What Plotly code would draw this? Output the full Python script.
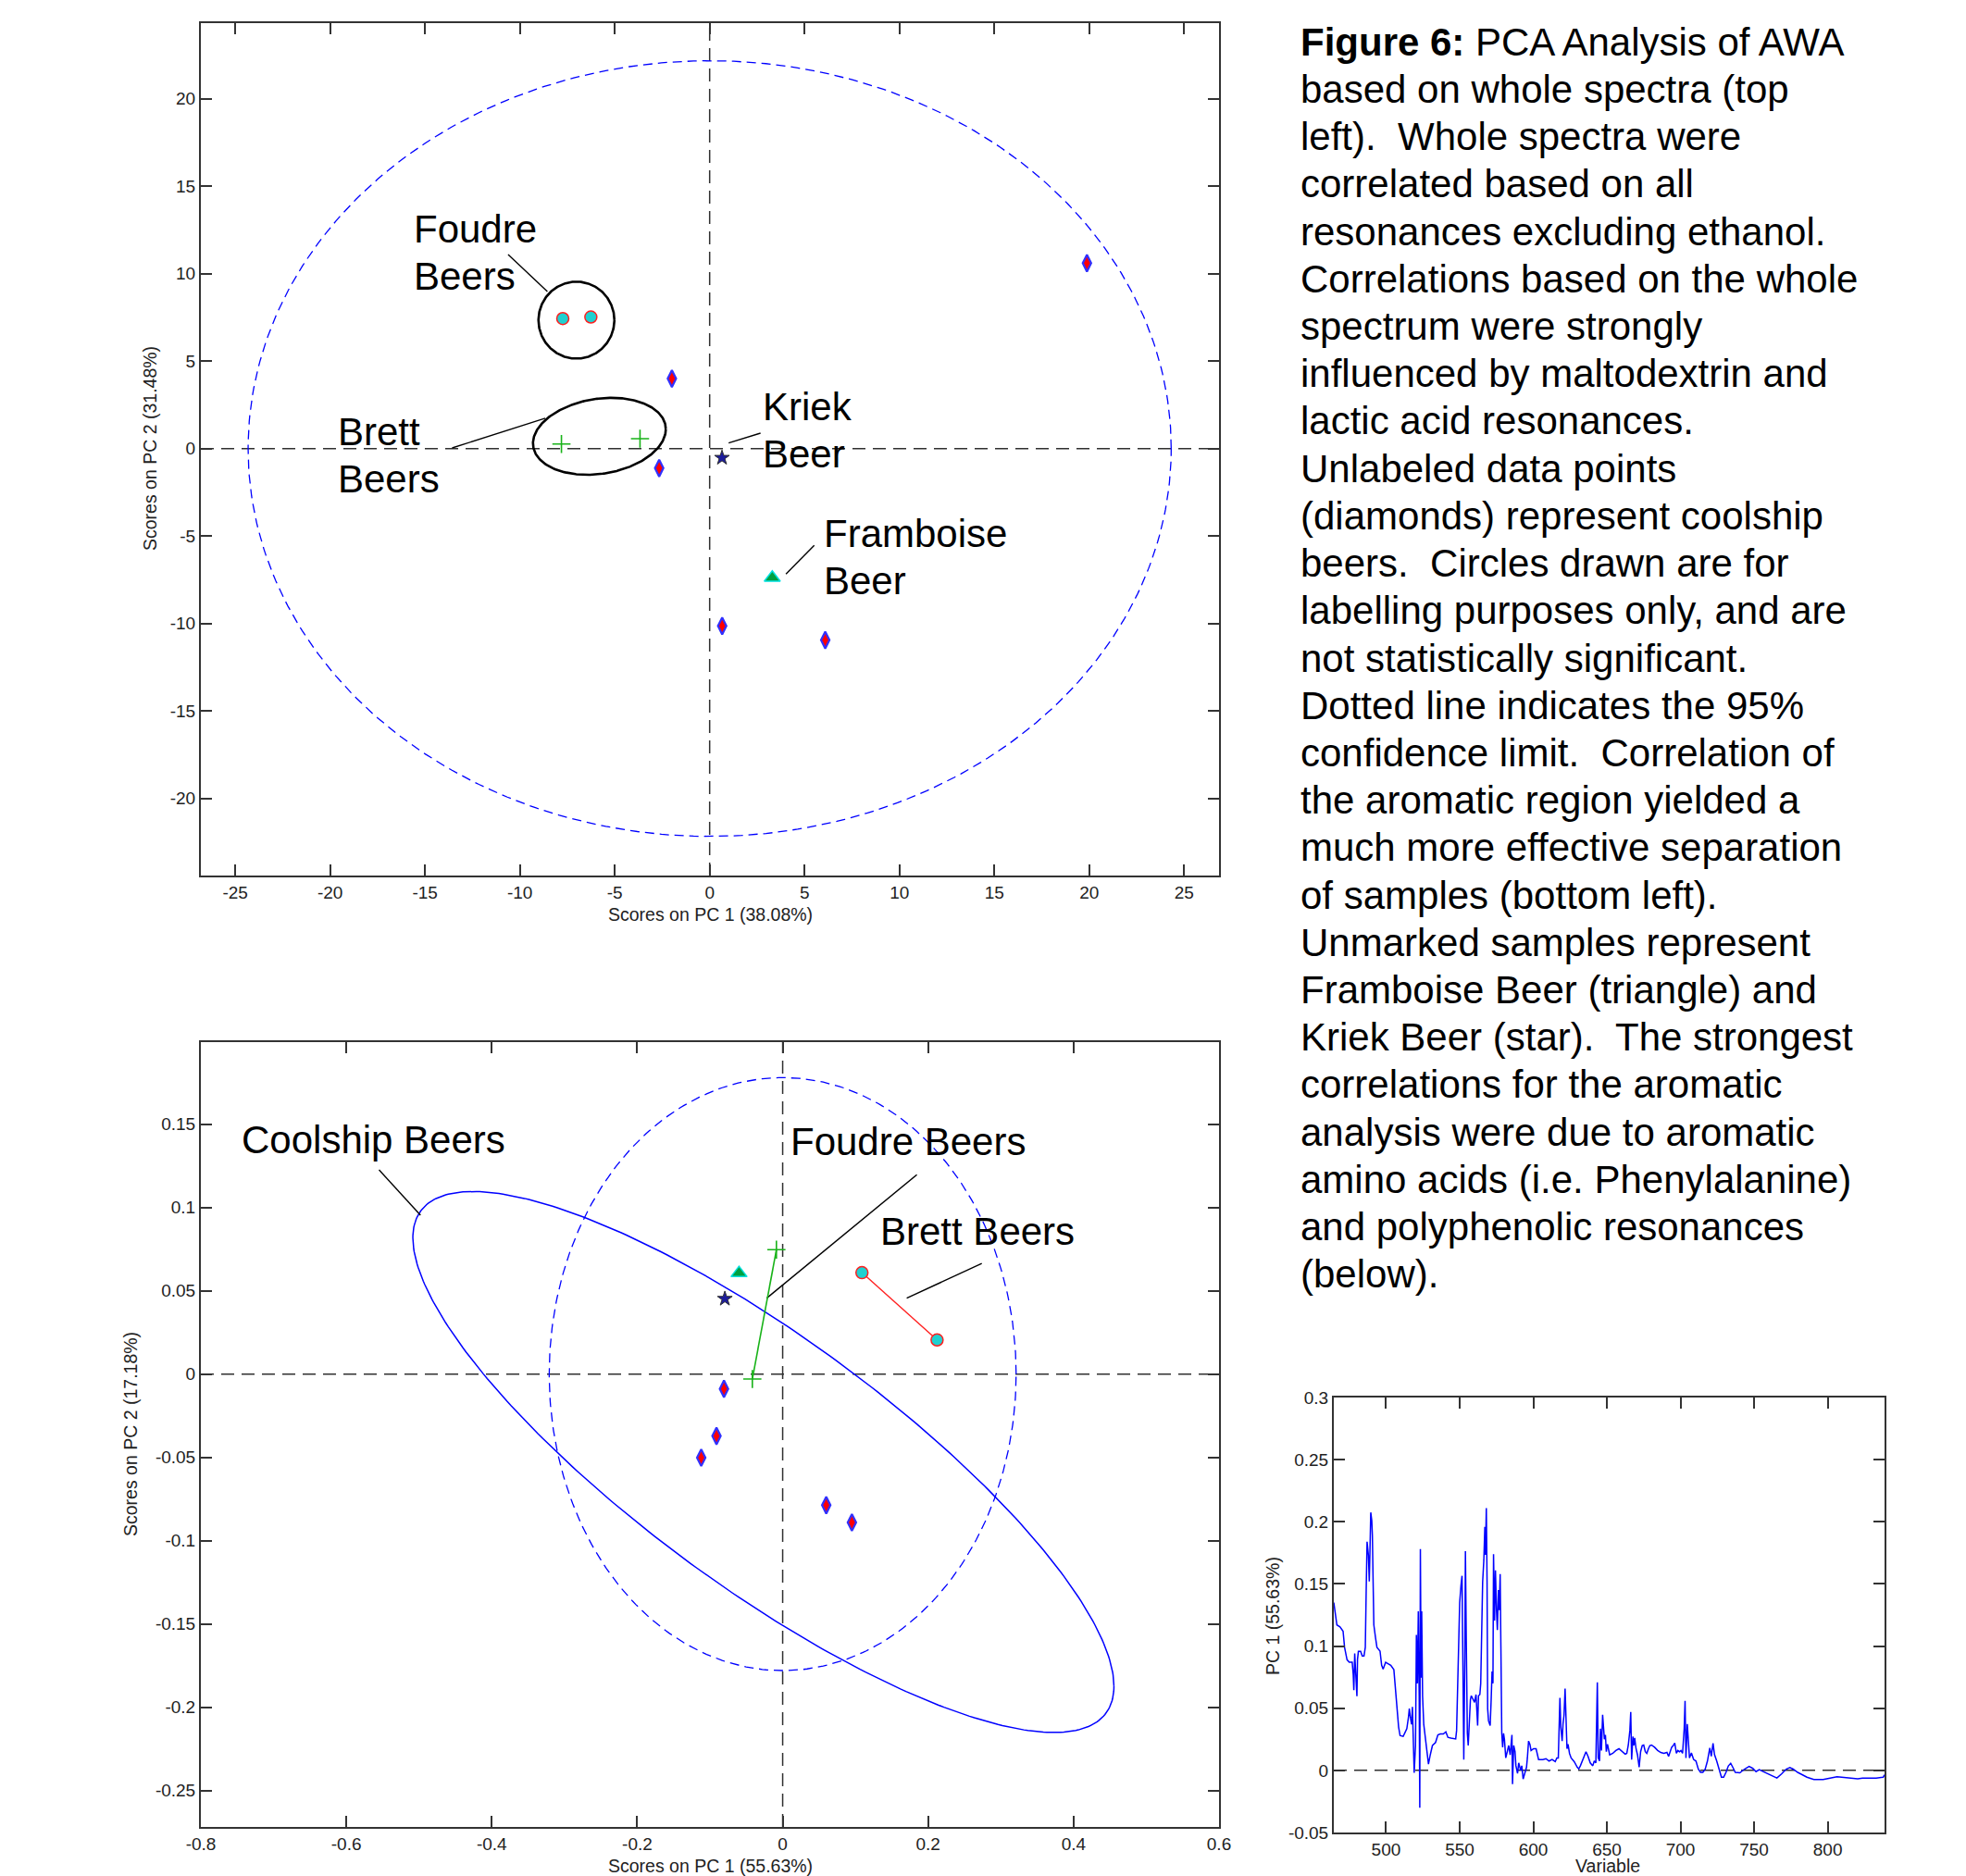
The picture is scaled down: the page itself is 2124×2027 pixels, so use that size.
import numpy as np
import plotly.graph_objects as go

W, H = 2124, 2027
FONT = "Liberation Sans, Arial, sans-serif"

# ------------------------------------------------------------------ data
# Top panel: PCA of whole spectra (scores)
top_coolship_x = [-1.99, -2.66, 0.66, 6.09, 19.88]
top_coolship_y = [4.00, -1.12, -10.14, -10.95, 10.60]
top_foudre_x = [-7.74, -6.26]
top_foudre_y = [7.43, 7.52]
top_brett_x = [-7.81, -3.67]
top_brett_y = [0.26, 0.56]
top_kriek_x = [0.65]
top_kriek_y = [-0.53]
top_framboise_x = [3.30]
top_framboise_y = [-7.39]
top_limit_semi = [24.32, 22.17]           # 95% confidence ellipse semi-axes
top_xrange = [-26.81, 26.84]
top_yrange = [-24.41, 24.32]
top_xticks = [-25, -20, -15, -10, -5, 0, 5, 10, 15, 20, 25]
top_xticklabels = ["-25", "-20", "-15", "-10", "-5", "0", "5", "10", "15", "20", "25"]
top_yticks = [-20, -15, -10, -5, 0, 5, 10, 15, 20]
top_yticklabels = ["-20", "-15", "-10", "-5", "0", "5", "10", "15", "20"]

# Bottom panel: PCA of aromatic region (scores)
bot_coolship_x = [-0.0807, -0.091, -0.112, 0.0599, 0.0952]
bot_coolship_y = [-0.0089, -0.0372, -0.0502, -0.0787, -0.0891]
bot_circles_x = [0.109, 0.2123]
bot_circles_y = [0.0609, 0.0205]
bot_crosses_x = [-0.0086, -0.0417]
bot_crosses_y = [0.0747, -0.0030]
bot_kriek_x = [-0.0795]
bot_kriek_y = [0.0452]
bot_framboise_x = [-0.060]
bot_framboise_y = [0.0606]
bot_limit_semi = [0.321, 0.178]
bot_xrange = [-0.8, 0.6]
bot_yrange = [-0.2719, 0.1993]
bot_xticks = [-0.8, -0.6, -0.4, -0.2, 0, 0.2, 0.4, 0.6]
bot_xticklabels = ["-0.8", "-0.6", "-0.4", "-0.2", "0", "0.2", "0.4", "0.6"]
bot_yticks = [-0.25, -0.2, -0.15, -0.1, -0.05, 0, 0.05, 0.1, 0.15]
bot_yticklabels = ["-0.25", "-0.2", "-0.15", "-0.1", "-0.05", "0", "0.05", "0.1", "0.15"]

# Loadings on PC 1 (aromatic region)
spec_variable = [
    464.5, 466.0, 466.6, 468.7, 470.8, 471.8, 473.5, 475.0, 477.0, 477.7,
    478.1, 478.7, 479.4, 480.2, 480.6, 481.2, 482.7, 483.8, 485.0, 485.9,
    486.5, 487.1, 488.0, 488.6, 489.0, 489.6, 490.3, 490.7, 491.1, 491.7,
    492.8, 493.8, 495.9, 497.0, 498.0, 499.7, 501.6, 503.2, 505.3, 506.4,
    507.4, 508.5, 509.5, 511.6, 512.6, 514.1, 515.2, 515.8, 516.4, 517.3,
    517.9, 518.5, 519.1, 520.0, 520.6, 521.3, 521.9, 522.5, 522.9, 523.3,
    523.8, 524.2, 524.8, 525.6, 526.9, 527.7, 528.8, 530.0, 531.5, 533.6,
    535.2, 536.8, 538.9, 540.6, 542.0, 544.1, 547.3, 547.9, 548.6, 549.4,
    550.0, 550.9, 551.6, 552.2, 552.8, 553.5, 553.9, 554.5, 555.2, 555.8,
    556.4, 557.3, 557.9, 559.0, 560.1, 561.1, 561.8, 562.2, 562.8, 563.7,
    564.3, 564.9, 565.6, 566.4, 567.1, 567.5, 568.1, 568.6, 569.0, 569.6,
    570.7, 571.4, 572.0, 572.6, 573.0, 573.7, 574.3, 575.0, 575.6, 576.3,
    576.9, 577.5, 578.1, 578.6, 579.2, 579.8, 580.4, 581.3, 582.3, 583.3,
    584.3, 585.5, 585.9, 586.7, 587.6, 588.2, 589.3, 590.1, 591.4, 592.2,
    593.1, 593.9, 595.4, 596.0, 596.8, 597.7, 598.5, 600.2, 601.9, 603.6,
    606.5, 608.6, 610.7, 612.8, 614.9, 616.0, 617.0, 617.7, 618.1, 618.7,
    619.6, 620.2, 620.9, 621.6, 622.3, 622.9, 623.6, 624.6, 625.7, 627.8,
    629.9, 630.9, 632.0, 634.1, 635.8, 637.2, 638.7, 640.4, 641.4, 642.5,
    643.1, 643.5, 644.1, 645.0, 645.6, 646.3, 647.1, 647.7, 648.3, 649.0,
    649.6, 650.4, 651.9, 654.0, 656.1, 658.2, 660.3, 662.4, 663.5, 664.5,
    665.6, 666.2, 666.8, 667.7, 668.3, 668.9, 669.8, 670.8, 671.9, 672.9,
    674.0, 675.0, 676.1, 677.1, 678.2, 679.2, 680.3, 682.4, 684.5, 686.6,
    688.7, 690.8, 691.9, 692.9, 694.0, 695.1, 696.1, 697.2, 698.2, 699.3,
    700.3, 701.4, 702.5, 703.1, 703.7, 704.6, 705.2, 706.1, 707.4, 708.9,
    710.5, 712.1, 713.6, 715.2, 716.8, 718.3, 719.9, 720.9, 722.1, 723.1,
    724.6, 726.2, 727.8, 729.3, 730.9, 732.5, 734.1, 735.6, 737.2, 740.3,
    743.5, 746.6, 749.1, 751.3, 753.5, 756.1, 759.2, 762.3, 765.5, 768.6,
    771.8, 774.3, 776.5, 779.6, 782.8, 785.9, 790.6, 796.9, 801.6, 806.3,
    811.0, 815.7, 820.4, 823.6, 828.3, 833.0, 837.7, 838.6,
]
spec_pc1 = [
    0.135, 0.124, 0.117, 0.1155, 0.112, 0.099, 0.089, 0.087, 0.087, 0.077,
    0.0646, 0.094, 0.0795, 0.0596, 0.0894, 0.0957, 0.0957, 0.092, 0.092, 0.099,
    0.145, 0.184, 0.173, 0.152, 0.173, 0.2075, 0.201, 0.189, 0.159, 0.117,
    0.107, 0.099, 0.096, 0.0845, 0.0815, 0.087, 0.0857, 0.0845, 0.081, 0.0646,
    0.047, 0.035, 0.028, 0.0273, 0.0298, 0.0335, 0.0427, 0.0497, 0.0435, 0.037,
    0.051, 0.025, -0.002, 0.02, 0.109, 0.070, 0.128, 0.06, -0.030, 0.178,
    0.0745, 0.128, 0.0596, 0.037, 0.025, 0.015, 0.005, 0.0124, 0.020, 0.0224,
    0.0286, 0.0293, 0.0293, 0.031, 0.0266, 0.026, 0.0253, 0.032, 0.062, 0.107,
    0.135, 0.149, 0.1565, 0.0845, 0.0087, 0.092, 0.1764, 0.104, 0.0298, 0.020,
    0.035, 0.057, 0.060, 0.057, 0.0547, 0.061, 0.047, 0.036, 0.060, 0.061,
    0.070, 0.112, 0.1515, 0.169, 0.196, 0.1735, 0.211, 0.1515, 0.0497, 0.0398,
    0.036, 0.057, 0.0795, 0.070, 0.174, 0.1205, 0.161, 0.129, 0.113, 0.145,
    0.129, 0.158, 0.087, 0.0298, 0.0186, 0.0298, 0.025, 0.010, 0.015, 0.020,
    0.0124, 0.0286, -0.011, 0.020, 0.015, 0.0037, -0.0025, 0.006, 0.000, 0.0037,
    -0.007, -0.004, 0.0025, 0.010, 0.0236, 0.021, 0.016, 0.0174, 0.0174, 0.0087,
    0.0087, 0.0094, 0.0075, 0.0087, 0.007, 0.010, 0.010, 0.041, 0.0584, 0.0348,
    0.0236, 0.0373, 0.0447, 0.0658, 0.0385, 0.0174, 0.021, 0.0137, 0.010, 0.007,
    0.0025, 0.0012, 0.0037, 0.010, 0.015, 0.0112, 0.006, 0.0037, 0.0075, 0.006,
    0.0373, 0.0708, 0.010, 0.0075, 0.0335, 0.016, 0.0447, 0.0298, 0.025, 0.0286,
    0.015, 0.021, 0.0124, 0.0137, 0.016, 0.0174, 0.015, 0.013, 0.0137, 0.020,
    0.032, 0.047, 0.0087, 0.0273, 0.020, 0.026, 0.0174, 0.0124, 0.0025, 0.015,
    0.020, 0.0204, 0.015, 0.0137, 0.0174, 0.020, 0.0204, 0.0186, 0.016, 0.0144,
    0.0137, 0.0144, 0.0112, 0.015, 0.0186, 0.020, 0.0219, 0.0137, 0.016, 0.015,
    0.016, 0.0137, 0.0335, 0.056, 0.010, 0.0373, 0.025, 0.010, 0.014, 0.0088,
    0.0075, 0.001, -0.0016, -0.0016, 0.001, 0.0075, 0.018, 0.0114, 0.0218, 0.0127,
    0.0075, 0.001, -0.0055, -0.0055, -0.0016, 0.0036, 0.0057, 0.0023, -0.0016, -0.002,
    0.001, 0.0031, 0.0016, -0.001, 0.0005, -0.001, -0.0029, -0.0042, -0.0062, -0.0029,
    0.001, 0.0023, 0.001, -0.0016, -0.0036, -0.0055, -0.0073, -0.0073, -0.0062, -0.0052,
    -0.0057, -0.0062, -0.0068, -0.0062, -0.0062, -0.0062, -0.0055, -0.0036,
]
spec_xrange = [464.5, 838.6]
spec_yrange = [-0.05, 0.3]
spec_xticks = [500, 550, 600, 650, 700, 750, 800]
spec_xticklabels = ["500", "550", "600", "650", "700", "750", "800"]
spec_yticks = [-0.05, 0, 0.05, 0.1, 0.15, 0.2, 0.25, 0.3]
spec_yticklabels = ["-0.05", "0", "0.05", "0.1", "0.15", "0.2", "0.25", "0.3"]

# Hand-drawn label ellipses: centre x, centre y, x-extent, y-extent, y-offset at max x
top_foudre_ring = [-7.02, 7.34, 2.00, 2.20, 0.0]
top_brett_ring = [-5.81, 0.70, 3.50, 2.20, 0.405]
bot_coolship_ring = [-0.0265, -0.0528, 0.482, 0.1624, -0.1346]

# Leader lines [x0, y0, x1, y1]
top_leaders = [
    [-10.62, 11.09, -8.55, 8.98],
    [-13.57, 0.035, -8.66, 1.73],
    [1.00, 0.32, 2.68, 0.88],
    [4.02, -7.17, 5.51, -5.53],
]
bot_leaders = [
    [-0.555, 0.1226, -0.498, 0.0954],
    [-0.0219, 0.0456, 0.1845, 0.1197],
    [0.1706, 0.0456, 0.2738, 0.0664],
]

caption_lines = [
    "<b>Figure 6:</b> PCA Analysis of AWA",
    "based on whole spectra (top",
    "left).  Whole spectra were",
    "correlated based on all",
    "resonances excluding ethanol.",
    "Correlations based on the whole",
    "spectrum were strongly",
    "influenced by maltodextrin and",
    "lactic acid resonances.",
    "Unlabeled data points",
    "(diamonds) represent coolship",
    "beers.  Circles drawn are for",
    "labelling purposes only, and are",
    "not statistically significant.",
    "Dotted line indicates the 95%",
    "confidence limit.  Correlation of",
    "the aromatic region yielded a",
    "much more effective separation",
    "of samples (bottom left).",
    "Unmarked samples represent",
    "Framboise Beer (triangle) and",
    "Kriek Beer (star).  The strongest",
    "correlations for the aromatic",
    "analysis were due to aromatic",
    "amino acids (i.e. Phenylalanine)",
    "and polyphenolic resonances",
    "(below).",
]

# ------------------------------------------------------------------ helpers
def ring(p, n=361):
    cx, cy, ex, ey, yx = p
    t = np.linspace(0, 2 * np.pi, n)
    x = cx + ex * np.cos(t)
    y = cy + yx * np.cos(t) + np.sqrt(ey ** 2 - yx ** 2) * np.sin(t)
    return x, y


def px(x):
    return x / W


def py(y):
    return 1 - y / H


BLUE = "#0000ff"
fig = go.Figure()


def add_panel(xa, ya, limit, rings, leaders, cool, circ, cross, kriek, framb,
              connect=False):
    ex, ey = ring([0, 0, limit[0], limit[1], 0])
    fig.add_trace(go.Scatter(x=ex, y=ey, mode="lines", xaxis=xa, yaxis=ya,
                             line=dict(color=BLUE, width=1.3, dash="10px,6px")))
    for r, col, wd in rings:
        rx, ry = ring(r)
        fig.add_trace(go.Scatter(x=rx, y=ry, mode="lines", xaxis=xa, yaxis=ya,
                                 line=dict(color=col, width=wd)))
    for l in leaders:
        fig.add_trace(go.Scatter(x=[l[0], l[2]], y=[l[1], l[3]], mode="lines",
                                 xaxis=xa, yaxis=ya,
                                 line=dict(color="black", width=1.4)))
    fig.add_trace(go.Scatter(
        x=cross[0], y=cross[1], xaxis=xa, yaxis=ya,
        mode="lines+markers" if connect else "markers",
        line=dict(color="#19b319", width=1.6),
        marker=dict(symbol="cross-thin", size=14,
                    line=dict(color="#19b319", width=1.6))))
    fig.add_trace(go.Scatter(
        x=circ[0], y=circ[1], xaxis=xa, yaxis=ya,
        mode="lines+markers" if connect else "markers",
        line=dict(color="#ff2020", width=1.4),
        marker=dict(symbol="circle", size=13, color="#20d0d0",
                    line=dict(color="#ff2020", width=1.5))))
    fig.add_trace(go.Scatter(
        x=cool[0], y=cool[1], xaxis=xa, yaxis=ya, mode="markers",
        marker=dict(symbol="diamond-tall", size=13, color="#ff0000",
                    line=dict(color="#3030ff", width=2.2))))
    fig.add_trace(go.Scatter(
        x=kriek[0], y=kriek[1], xaxis=xa, yaxis=ya, mode="markers",
        marker=dict(symbol="star", size=12, color="#1c1c9c",
                    line=dict(color="#303030", width=1))))
    fig.add_trace(go.Scatter(
        x=framb[0], y=framb[1], xaxis=xa, yaxis=ya, mode="markers",
        marker=dict(symbol="triangle-up", size=15, color="#00a040",
                    line=dict(color="#00e0e0", width=1.5))))


add_panel("x", "y", top_limit_semi,
          [(top_foudre_ring, "black", 2.6), (top_brett_ring, "black", 2.6)],
          top_leaders,
          (top_coolship_x, top_coolship_y), (top_foudre_x, top_foudre_y),
          (top_brett_x, top_brett_y), (top_kriek_x, top_kriek_y),
          (top_framboise_x, top_framboise_y))

add_panel("x2", "y2", bot_limit_semi,
          [(bot_coolship_ring, BLUE, 1.5)],
          bot_leaders,
          (bot_coolship_x, bot_coolship_y), (bot_circles_x, bot_circles_y),
          (bot_crosses_x, bot_crosses_y), (bot_kriek_x, bot_kriek_y),
          (bot_framboise_x, bot_framboise_y), connect=True)

fig.add_trace(go.Scatter(x=spec_variable, y=spec_pc1, mode="lines",
                         xaxis="x3", yaxis="y3",
                         line=dict(color=BLUE, width=1.5)))

# ------------------------------------------------------------------ axes
def axis_style(rng, tv, tt, domain, anchor):
    return dict(range=rng, domain=domain, anchor=anchor, tickvals=tv,
                ticktext=tt, showgrid=False, zeroline=False, showline=True,
                automargin=False,
                mirror="ticks", ticks="inside", ticklen=12, tickwidth=1.5,
                tickcolor="#333333", linecolor="#333333", linewidth=2,
                tickfont=dict(family=FONT, size=19, color="#222222"))


top_xd = [px(217), px(1317)]
top_yd = [py(946), py(25)]
bot_yd = [py(1974), py(1126)]
sp_xd = [px(1441), px(2036)]
sp_yd = [py(1980), py(1510)]

fig.update_layout(
    width=W, height=H, margin=dict(l=0, r=0, t=0, b=0, pad=0),
    paper_bgcolor="white", plot_bgcolor="white", showlegend=False,
    font=dict(family=FONT, color="black"),
    xaxis=axis_style(top_xrange, top_xticks, top_xticklabels, top_xd, "y"),
    yaxis=axis_style(top_yrange, top_yticks, top_yticklabels, top_yd, "x"),
    xaxis2=axis_style(bot_xrange, bot_xticks, bot_xticklabels, top_xd, "y2"),
    yaxis2=axis_style(bot_yrange, bot_yticks, bot_yticklabels, bot_yd, "x2"),
    xaxis3=axis_style(spec_xrange, spec_xticks, spec_xticklabels, sp_xd, "y3"),
    yaxis3=axis_style(spec_yrange, spec_yticks, spec_yticklabels, sp_yd, "x3"),
)

# dashed zero lines
shapes = []
for xa, ya, vert in [("x", "y", True), ("x2", "y2", True), ("x3", "y3", False)]:
    shapes.append(dict(type="line", xref=f"{xa} domain", x0=0, x1=1,
                       yref=ya, y0=0, y1=0, layer="below",
                       line=dict(color="#303030", width=1.5, dash="14px,8px")))
    if vert:
        shapes.append(dict(type="line", xref=xa, x0=0, x1=0,
                           yref=f"{ya} domain", y0=0, y1=1, layer="below",
                           line=dict(color="#303030", width=1.5, dash="14px,8px")))
fig.update_layout(shapes=shapes)

# ------------------------------------------------------------------ text
ann = []


def txt(x, base, s, size=42, anchor="left", angle=0, center=False, color="black"):
    yc = base if center else base - 0.3465 * size
    xx = x - 4 if anchor == "left" else x
    ann.append(dict(xref="paper", yref="paper", x=px(xx), y=py(yc), text=s,
                    showarrow=False, xanchor=anchor, yanchor="middle",
                    textangle=angle,
                    font=dict(family=FONT, size=size, color=color)))


# in-plot labels (left x, baseline y in pixels)
txt(449, 262, "Foudre")
txt(449, 313, "Beers")
txt(367, 481, "Brett")
txt(367, 532, "Beers")
txt(826, 454, "Kriek")
txt(826, 505, "Beer")
txt(892, 591, "Framboise")
txt(892, 642, "Beer")
txt(263, 1246, "Coolship Beers")
txt(856, 1248, "Foudre Beers")
txt(953, 1345, "Brett Beers")

# axis titles
TS = 19.5
txt(767, 988, "Scores on PC 1 (38.08%)", size=TS, anchor="center", center=True, color="#222222")
txt(162, 485, "Scores on PC 2 (31.48%)", size=TS, anchor="center", angle=-90, center=True, color="#222222")
txt(767, 2016, "Scores on PC 1 (55.63%)", size=TS, anchor="center", center=True, color="#222222")
txt(141, 1550, "Scores on PC 2 (17.18%)", size=TS, anchor="center", angle=-90, center=True, color="#222222")
txt(1737, 2016, "Variable", size=TS, anchor="center", center=True, color="#222222")
txt(1375, 1746, "PC 1 (55.63%)", size=TS, anchor="center", angle=-90, center=True, color="#222222")

# caption
for i, line in enumerate(caption_lines):
    txt(1407, 59.7 + i * 51.22, line)

fig.update_layout(annotations=ann)
fig.write_html("out.html")
